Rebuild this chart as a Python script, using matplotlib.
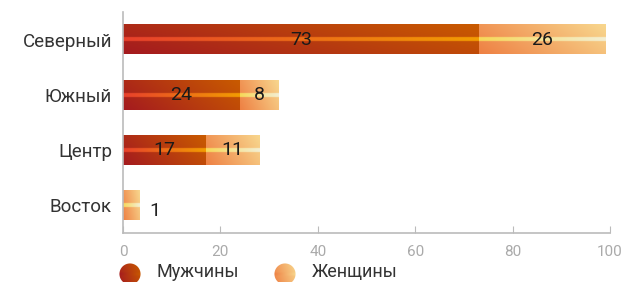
import numpy as np
import matplotlib.pyplot as plt
from matplotlib.colors import to_rgb
from matplotlib.patches import Circle

regions = ["Северный", "Южный", "Центр", "Восток"]
men = [73, 24, 17, 0]
women = [26, 8, 11, 1]
legend_names = ["Мужчины", "Женщины"]

plt.rcParams['font.family'] = ['Roboto', 'DejaVu Sans']

W, H = 622, 282
fig = plt.figure(figsize=(W / 100, H / 100), dpi=100)
ax = fig.add_axes([123 / W, 1 - 233 / H, 487 / W, 221 / H])

# gradient colours: (base left-bottom, base right-top, stripe left, stripe right)
men_cols = ("#a41a1f", "#c95b00", "#e8402c", "#f29c02")
women_cols = ("#ee8043", "#f8d78e", "#f7d858", "#f3efd4")


def lerp(c0, c1, t):
    c0, c1 = np.array(to_rgb(c0)), np.array(to_rgb(c1))
    return c0 + (c1 - c0) * t[..., None]


def grad_img(cols, nx=200, ny=60):
    xf = np.linspace(0, 1, nx)[None, :].repeat(ny, 0)
    yf = np.linspace(0, 1, ny)[:, None].repeat(nx, 1)
    img = lerp(cols[0], cols[1], 0.75 * xf + 0.25 * yf)
    band = np.abs(yf - 0.5) < 0.075
    stripe = lerp(cols[2], cols[3], xf)
    img[band] = stripe[band]
    return img


bar_h = 0.53
min_len = 3.3
for i, name in enumerate(regions):
    left = 0
    for val, cols in ((men[i], men_cols), (women[i], women_cols)):
        if val <= 0:
            continue
        length = max(val, min_len)
        ax.imshow(grad_img(cols), extent=(left, left + length, i + bar_h / 2, i - bar_h / 2),
                  origin='lower', aspect='auto', interpolation='bilinear', zorder=2)
        if length > val:
            ax.annotate(str(val), (left + length, i), xytext=(11, -4), textcoords='offset points',
                        ha='center', va='center', fontsize=14, color='#222222')
        else:
            ax.text(left + length / 2, i, str(val), ha='center', va='center',
                    fontsize=14, color='#1a1a1a', zorder=3)
        left += length

ax.set_xlim(0, 100)
ax.set_ylim(3.5, -0.5)
ax.set_yticks(range(len(regions)))
ax.set_yticklabels(regions, fontsize=13.5, color='#333333')
ax.set_xticks([0, 20, 40, 60, 80, 100])
ax.tick_params(axis='y', length=0, pad=8)
ax.tick_params(axis='x', direction='in', length=5, color='#bbbbbb', labelcolor='#aaaaaa',
               labelsize=11, pad=9)
for s in ("top", "right"):
    ax.spines[s].set_visible(False)
for s in ("left", "bottom"):
    ax.spines[s].set_color('#bbbbbb')
    ax.spines[s].set_linewidth(1.2)

# legend with gradient dots
leg = [(130, men_cols, 157), (285, women_cols, 312)]
for (cx, cols, tx), name in zip(leg, legend_names):
    r = 11
    lax = fig.add_axes([(cx - r) / W, 1 - (274 + r) / H, 2 * r / W, 2 * r / H])
    lax.set_xlim(0, 1)
    lax.set_ylim(0, 1)
    lax.axis('off')
    im = lax.imshow(grad_img((cols[0], cols[1], cols[0], cols[1])),
                    extent=(0, 1, 0, 1), origin='lower', aspect='auto')
    circ = Circle((0.5, 0.5), 0.48, transform=lax.transData)
    im.set_clip_path(circ)
    fig.text(tx / W, 1 - 272 / H, name, ha='left', va='center', fontsize=13,
             color='#333333')

fig.savefig("out.png", dpi=100)
